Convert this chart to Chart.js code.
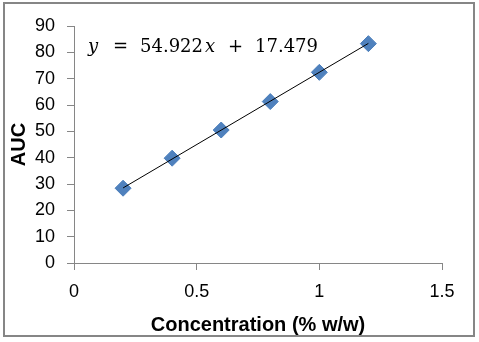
<!DOCTYPE html>
<html lang="en">

<head>
    <meta charset="UTF-8" />
    <title>AUC calibration</title>
    <script src="https://cdn.jsdelivr.net/npm/chart.js@4.4.1/dist/chart.umd.min.js"></script>
    <style>
        body { margin: 0; background: #fff; }
    </style>
</head>

<body>

    <canvas id="chart" width="479" height="342"></canvas>

    <script>
        // calibration points
        const concentration = [0.2, 0.4, 0.6, 0.8, 1.0, 1.2];
        const auc = [28.4, 39.8, 50.5, 61.3, 72.4, 83.3];

        // trendline end points (from 0.2 to 1.2)
        const trendX = [0.2, 1.2];
        const trendY = [28.5, 83.4];

        const xTicks = ['0', '0.5', '1', '1.5'];
        const yTicks = ['0', '10', '20', '30', '40', '50', '60', '70', '80', '90'];

        const equation = [
            { t: 'y', italic: true, x: 88 },
            { t: '=', x: 113 },
            { t: '54.922', x: 140 },
            { t: 'x', italic: true, x: 205 },
            { t: '+', x: 228 },
            { t: '17.479', x: 255 }
        ];

        const grey = '#868686';

        // frame round the whole chart + the equation text
        const extras = {
            id: 'extras',
            afterDraw(chart) {
                const ctx = chart.ctx;
                ctx.save();
                ctx.strokeStyle = grey;
                ctx.lineWidth = 2;
                ctx.strokeRect(4, 3, 470, 333);
                ctx.fillStyle = '#000';
                ctx.textBaseline = 'alphabetic';
                equation.forEach(p => {
                    ctx.font = (p.italic ? 'italic ' : '') + '18px "DejaVu Serif", "Liberation Serif", serif';
                    ctx.fillText(p.t, p.x, 52);
                });
                ctx.restore();
            }
        };

        const ctx = document.getElementById('chart').getContext('2d');
        const tickFont = { family: '"Liberation Sans", Arial, sans-serif', size: 18 };
        const titleFont = { family: '"Liberation Sans", Arial, sans-serif', size: 20, weight: 'bold' };

        const myChart = new Chart(ctx, {
            type: 'scatter',
            data: {
                datasets: [{
                    type: 'line',
                    label: 'trend',
                    data: trendX.map((x, i) => ({ x: x, y: trendY[i] })),
                    borderColor: '#000',
                    borderWidth: 1,
                    pointRadius: 0,
                    fill: false
                }, {
                    label: 'AUC',
                    data: concentration.map((x, i) => ({ x: x, y: auc[i] })),
                    pointStyle: 'rectRot',
                    pointRadius: 8,
                    backgroundColor: '#4F81BD',
                    borderColor: '#4A7EBB',
                    borderWidth: 1
                }]
            },
            options: {
                responsive: false,
                animation: false,
                layout: { padding: { top: 26, right: 37, left: 0, bottom: 0 } },
                plugins: {
                    legend: { display: false },
                    tooltip: { enabled: false }
                },
                scales: {
                    x: {
                        type: 'linear',
                        min: 0,
                        max: 1.5,
                        afterFit: s => { s.height = 79; },
                        afterBuildTicks: s => { s.ticks = xTicks.map(v => ({ value: parseFloat(v) })); },
                        ticks: {
                            color: '#000',
                            font: tickFont,
                            padding: 11,
                            maxRotation: 0,
                            callback: (v, i) => xTicks[i]
                        },
                        grid: { drawOnChartArea: false, drawTicks: true, tickLength: 7, color: grey },
                        border: { color: grey },
                        title: {
                            display: true,
                            text: 'Concentration (% w/w)',
                            color: '#000',
                            font: titleFont,
                            padding: { top: 0, bottom: 5 }
                        }
                    },
                    y: {
                        type: 'linear',
                        min: 0,
                        max: 90,
                        afterFit: s => { s.width = 74; },
                        afterBuildTicks: s => { s.ticks = yTicks.map(v => ({ value: parseFloat(v) })); },
                        ticks: {
                            color: '#000',
                            font: tickFont,
                            padding: 12,
                            callback: (v, i) => yTicks[i]
                        },
                        grid: { drawOnChartArea: false, drawTicks: true, tickLength: 7, color: grey },
                        border: { color: grey },
                        title: {
                            display: true,
                            text: 'AUC',
                            color: '#000',
                            font: titleFont,
                            padding: { top: 7, bottom: 0 }
                        }
                    }
                }
            },
            plugins: [extras]
        });
    </script>
</body>

</html>
